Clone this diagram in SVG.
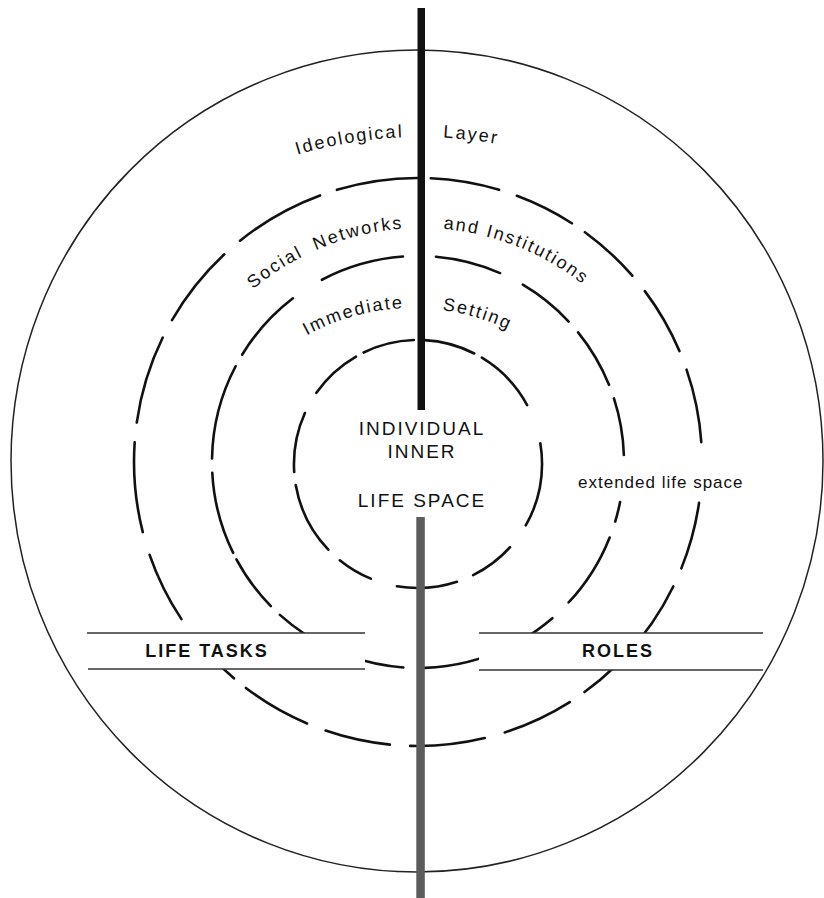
<svg xmlns="http://www.w3.org/2000/svg" width="824" height="898" viewBox="0 0 824 898">
<style>
  .ring{fill:none;stroke:#111;stroke-width:2.6;stroke-linecap:round}
  .outer{fill:none;stroke:#222;stroke-width:1.5}
  .lbl{font-family:"Liberation Sans",Arial,sans-serif;font-size:18px;fill:#111;letter-spacing:2px}
  .cap{font-family:"Liberation Sans",Arial,sans-serif;font-size:19px;fill:#111;letter-spacing:2px;text-anchor:middle}
  .band{font-family:"Liberation Sans",Arial,sans-serif;font-size:18px;font-weight:bold;fill:#111;letter-spacing:2px;text-anchor:middle}
  .bline{stroke:#333;stroke-width:1.4}
  .mask{fill:#fff}
</style>
<defs>
  <path id="arc1" d="M -10,567 A 430 430 0 0 1 850,567"/>
  <path id="arc2" d="M 161,488 A 260 260 0 0 1 681,488"/>
  <path id="arc3" d="M 193,528 A 220 220 0 0 1 633,528"/>
</defs>
<rect width="824" height="898" fill="#fff"/>

<g id="ideological-layer">
  <ellipse class="outer" cx="417" cy="461" rx="406" ry="411"/>
  <text class="lbl"><textPath href="#arc1" startOffset="659" text-anchor="end">Ideological</textPath></text>
  <text class="lbl"><textPath href="#arc1" startOffset="698.5">Layer</textPath></text>
</g>

<g id="social-networks">
  <path class="ring" pathLength="360" d="M418,178 A284 284 0 1 1 418,746 A284 284 0 1 1 418,178"
    stroke-dasharray="14 3.8 12.4 3.2 13 4 14 4 15 12.3 13.7 4 17 3 8.1 3.6 14.5 4.2 15.2 4.1 13.3 4 14.3 3.1 7.6 8.4 14.5 4.8 18.3 4 18 4 17 4.2 18.6 3.6 16.4 2.8"
    stroke-dashoffset="-2.6"/>
  <text class="lbl" word-spacing="6"><textPath href="#arc2" startOffset="391" text-anchor="end">Social Networks</textPath></text>
  <text class="lbl"><textPath href="#arc2" startOffset="430.5">and Institutions</textPath></text>
</g>

<g id="immediate-setting">
  <path class="ring" pathLength="360" d="M418,256 A206 206 0 1 1 418,668 A206 206 0 1 1 418,256"
    stroke-dasharray="18.5 7.1 16.4 4 17 4 16 13.2 5.6 4.7 21.5 6.3 10.7 4 24.1 6 15.9 4 18.1 3.5 16.2 2 23.2 4 26.7 3.7 21.2 9.6 23.6 9.2"
    stroke-dashoffset="-5"/>
  <text class="lbl"><textPath href="#arc3" startOffset="336.5" text-anchor="end">Immediate</textPath></text>
  <text class="lbl"><textPath href="#arc3" startOffset="374.7">Setting</textPath></text>
</g>

<g id="inner-life-space">
  <path class="ring" pathLength="360" d="M418,340 A124 124 0 1 1 418,588 A124 124 0 1 1 418,340"
    stroke-dasharray="24 4 30.6 18.8 39.3 12.4 21.5 8.1 28.1 12.6 16.7 7.2 33.9 6.1 28 10.7 25 4 24 5"
    stroke-dashoffset="-3"/>
</g>

<g id="life-tasks">
  <rect class="mask" x="87" y="633" width="278" height="36"/>
  <line class="bline" x1="87" y1="633" x2="365" y2="633"/>
  <line class="bline" x1="88" y1="669" x2="365" y2="669"/>
  <text class="band" x="207" y="657">LIFE TASKS</text>
</g>

<g id="roles">
  <rect class="mask" x="479" y="633" width="284" height="37"/>
  <line class="bline" x1="479" y1="633" x2="763" y2="633"/>
  <line class="bline" x1="479" y1="670" x2="763" y2="670"/>
  <text class="band" x="618" y="657">ROLES</text>
</g>

<g id="connectors">
  <rect x="417.5" y="8" width="7.5" height="402" fill="#111"/>
  <rect x="416.3" y="517" width="8.5" height="381" fill="#5c5c5c"/>
</g>

<g id="individual">
  <text class="cap" x="422" y="435">INDIVIDUAL</text>
  <text class="cap" x="422" y="458">INNER</text>
  <text class="cap" x="422" y="507" letter-spacing="1.8">LIFE SPACE</text>
</g>

<g id="extended-life-space">
  <text x="578" y="488" font-family="'Liberation Sans',Arial,sans-serif" font-size="17" letter-spacing="1" fill="#111">extended life space</text>
</g>
</svg>
